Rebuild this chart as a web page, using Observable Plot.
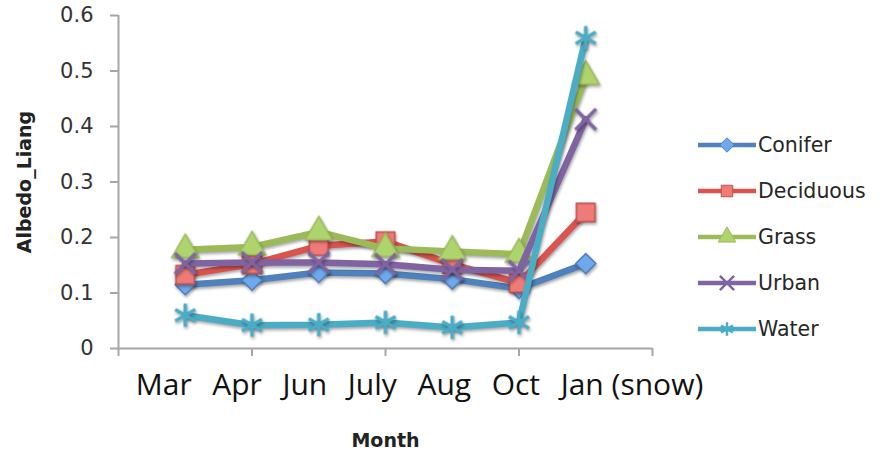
<!DOCTYPE html>
<html>
<head>
<meta charset="utf-8">
<script src="https://cdn.jsdelivr.net/npm/d3@7"></script>
<script src="https://cdn.jsdelivr.net/npm/@observablehq/plot@0.6"></script>
<style>
  html, body { margin: 0; padding: 0; background: #fff; }
  #wrap { position: relative; width: 890px; height: 454px; overflow: hidden; }
  #wrap svg.plot g[aria-label="line"], #wrap svg.plot g[aria-label="dot"] {
    filter: drop-shadow(1px 2px 1.5px rgba(0,0,0,0.35));
  }
  #legend { position: absolute; left: 698px; top: 0; }
  .item { position: absolute; left: 0; display: flex; align-items: center; height: 24px; white-space: nowrap;
          font-family: "DejaVu Sans", sans-serif; font-size: 20.5px; color: #262626; }
  .item svg { display: block; margin-right: 2px; }
</style>
</head>
<body>
<div id="wrap"></div>
<script>
const months = ["Mar", "Apr", "Jun", "July", "Aug", "Oct", "Jan (snow)"];
const seriesNames = ["Conifer", "Deciduous", "Grass", "Urban", "Water"];
const conifer   = [0.115, 0.123, 0.137, 0.135, 0.125, 0.108, 0.153];
const deciduous = [0.133, 0.152, 0.185, 0.193, 0.152, 0.118, 0.245];
const grass     = [0.178, 0.183, 0.210, 0.180, 0.175, 0.170, 0.490];
const urban     = [0.153, 0.155, 0.155, 0.152, 0.142, 0.140, 0.413];
const water     = [0.060, 0.042, 0.043, 0.047, 0.038, 0.047, 0.560];
const yTicks = [0, 0.1, 0.2, 0.3, 0.4, 0.5, 0.6];
const yLabel = "Albedo_Liang";
const xLabel = "Month";

const values = [conifer, deciduous, grass, urban, water];
const styles = [
  {line: "#4F81BD", fill: "#6FA8EC", stroke: "#4F81BD", symbol: "diamond2", r: 9},
  {line: "#D9534F", fill: "#EE7B77", stroke: "#C0504D", symbol: "square", r: 10.5},
  {line: "#9BBB59", fill: "#AED46E", stroke: "#9BBB59", symbol: "triangle", r: 10},
  {line: "#8064A2", fill: "none", stroke: "#8064A2", symbol: "times", r: 9.5},
  {line: "#4BACC6", fill: "none", stroke: "#4BACC6", symbol: "asterisk", r: 11}
];

const rowsBySeries = seriesNames.map((s, k) =>
  values[k].map((v, i) => ({series: s, i: i + 1, month: months[i], v}))
);
const nSlots = months.length + 1;

const seriesMarks = rowsBySeries.flatMap((rows, k) => {
  const st = styles[k];
  return [
    Plot.line(rows, {x: "i", y: "v", stroke: st.line, strokeWidth: 6.5, strokeLinejoin: "round"}),
    Plot.dot(rows, {x: "i", y: "v", symbol: st.symbol, r: st.r, fill: st.fill, stroke: st.stroke,
                    strokeWidth: st.fill === "none" ? 3.5 : 1.5})
  ];
});

const chart = Plot.plot({
  width: 890,
  height: 454,
  marginLeft: 118,
  marginRight: 238,
  marginTop: 15,
  marginBottom: 106,
  style: {background: "#fff", overflow: "visible"},
  x: {domain: [0, nSlots], axis: null},
  y: {domain: [0, 0.6], axis: null},
  marks: [
    Plot.axisY({ticks: yTicks, tickFormat: d => d === 0 ? "0" : d3.format(".1f")(d), label: null,
                tickSize: 8, tickPadding: 17, fontSize: 21, fontFamily: "DejaVu Sans",
                stroke: "#a6a6a6", strokeWidth: 2, fill: "#333", color: "#333"}),
    Plot.axisX({ticks: d3.range(0, nSlots + 1, 2), tickFormat: () => "", tickSize: 8, label: null,
                stroke: "#a6a6a6", strokeWidth: 2}),
    Plot.ruleX([0], {stroke: "#a6a6a6", strokeWidth: 2}),
    Plot.ruleY([0], {stroke: "#a6a6a6", strokeWidth: 2}),
    ...seriesMarks,
    Plot.text([months.join("\u00a0\u00a0\u2009")], {text: d => d, frameAnchor: "bottom", dy: 46, dx: 34,
               fontSize: 30, fontFamily: "Open Sans", fill: "#111"}),
    Plot.text([xLabel], {text: d => d, frameAnchor: "bottom", dy: 98, fontSize: 19,
               fontWeight: "bold", fontFamily: "DejaVu Sans", fill: "#222"}),
    Plot.text([yLabel], {text: d => d, frameAnchor: "left", textAnchor: "middle", rotate: -90, dx: -94,
               fontSize: 19, fontWeight: "bold", fontFamily: "DejaVu Sans", fill: "#222"})
  ]
});
chart.classList.add("plot");
document.getElementById("wrap").appendChild(chart);

// Legend
const legend = document.createElement("div");
legend.id = "legend";
const symMap = {diamond2: d3.symbolDiamond2, square: d3.symbolSquare, triangle: d3.symbolTriangle,
                times: d3.symbolTimes, asterisk: d3.symbolAsterisk};
seriesNames.forEach((name, k) => {
  const st = styles[k];
  const item = document.createElement("div");
  item.className = "item";
  item.style.top = (133 + k * 46) + "px";
  const sw = 58, sh = 24;
  const path = d3.symbol(symMap[st.symbol], Math.PI * 6.5 * 6.5)();
  item.innerHTML =
    `<svg width="${sw}" height="${sh}">
       <line x1="0" x2="${sw}" y1="${sh/2}" y2="${sh/2}" stroke="${st.line}" stroke-width="4.5"/>
       <path d="${path}" transform="translate(${sw/2},${sh/2})" fill="${st.fill}" stroke="${st.stroke}"
             stroke-width="${st.fill === "none" ? 2.5 : 1}"/>
     </svg><span>${name}</span>`;
  legend.appendChild(item);
});
document.getElementById("wrap").appendChild(legend);
</script>
</body>
</html>
